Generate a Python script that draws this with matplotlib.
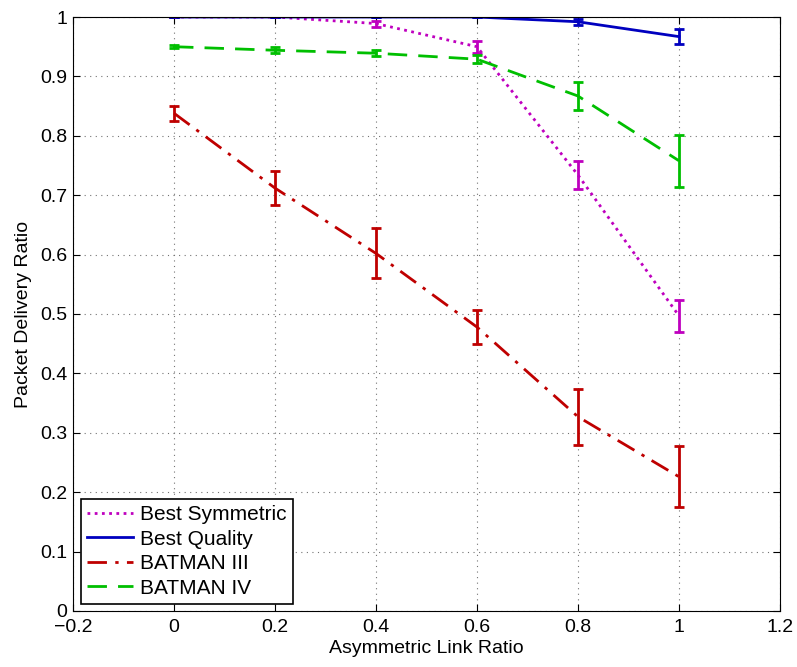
import matplotlib
matplotlib.use("Agg")
from matplotlib import pyplot as plt
from matplotlib.lines import Line2D

plt.rcParams["font.family"] = ["Liberation Sans", "DejaVu Sans"]

x_values = [0, 0.2, 0.4, 0.6, 0.8, 1.0]

best_symmetric = [1.0, 1.0, 0.989, 0.950, 0.734, 0.497]
best_symmetric_err = [0.0, 0.0, 0.005, 0.010, 0.024, 0.027]

best_quality = [1.0, 1.0, 1.0, 1.0, 0.992, 0.967]
best_quality_err = [0.0, 0.0, 0.0, 0.0, 0.005, 0.012]

batman_iii = [0.838, 0.712, 0.602, 0.478, 0.327, 0.226]
batman_iii_err = [0.013, 0.029, 0.042, 0.029, 0.047, 0.051]

batman_iv = [0.950, 0.944, 0.939, 0.929, 0.867, 0.758]
batman_iv_err = [0.003, 0.005, 0.005, 0.007, 0.024, 0.044]

fig = plt.figure(figsize=(7.97, 6.67), dpi=100)
ax = fig.add_axes([0.0916, 0.084, 0.887, 0.8905])

series = [
    ("Best Symmetric", best_symmetric, best_symmetric_err, (0.75, 0, 0.75), (0, (1, 1.6))),
    ("Best Quality", best_quality, best_quality_err, (0, 0, 0.75), "-"),
    ("BATMAN III", batman_iii, batman_iii_err, (0.75, 0, 0), (0, (7, 3, 1.2, 3))),
    ("BATMAN IV", batman_iv, batman_iv_err, (0, 0.75, 0), (0, (7, 4))),
]

handles = []
for name, vals, errs, col, ls in series:
    ax.errorbar(x_values, vals, yerr=errs, color=col, linestyle=ls, linewidth=2,
                elinewidth=2, capsize=3.7, capthick=2)
    handles.append(Line2D([], [], color=col, linestyle=ls, linewidth=2, label=name))

ax.set_xlim(-0.2, 1.2)
ax.set_ylim(0, 1)
ax.set_xticks([-0.2, 0, 0.2, 0.4, 0.6, 0.8, 1.0, 1.2])
ax.set_xticklabels(["\u22120.2", "0", "0.2", "0.4", "0.6", "0.8", "1", "1.2"])
ax.set_yticks([0, 0.1, 0.2, 0.3, 0.4, 0.5, 0.6, 0.7, 0.8, 0.9, 1.0])
ax.set_yticklabels(["0", "0.1", "0.2", "0.3", "0.4", "0.5", "0.6", "0.7", "0.8", "0.9", "1"])
ax.tick_params(direction="in", top=True, right=True, labelsize=14, length=5)
ax.tick_params(axis="x", pad=6)
ax.tick_params(axis="y", pad=4)
ax.grid(True, linestyle=(0, (1, 4)), color="0.45", linewidth=0.8)
ax.set_xlabel("Asymmetric Link Ratio", fontsize=14, labelpad=3)
ax.set_ylabel("Packet Delivery Ratio", fontsize=14, labelpad=6)

leg = ax.legend(handles=handles, loc="lower left", bbox_to_anchor=(0.011, 0.012),
                fontsize=15, fancybox=False, edgecolor="black", framealpha=1,
                handlelength=2.2, handletextpad=0.35, labelspacing=0.26,
                borderpad=0.3, borderaxespad=0)
leg.get_frame().set_linewidth(1.2)

fig.savefig("out.png", dpi=100)
